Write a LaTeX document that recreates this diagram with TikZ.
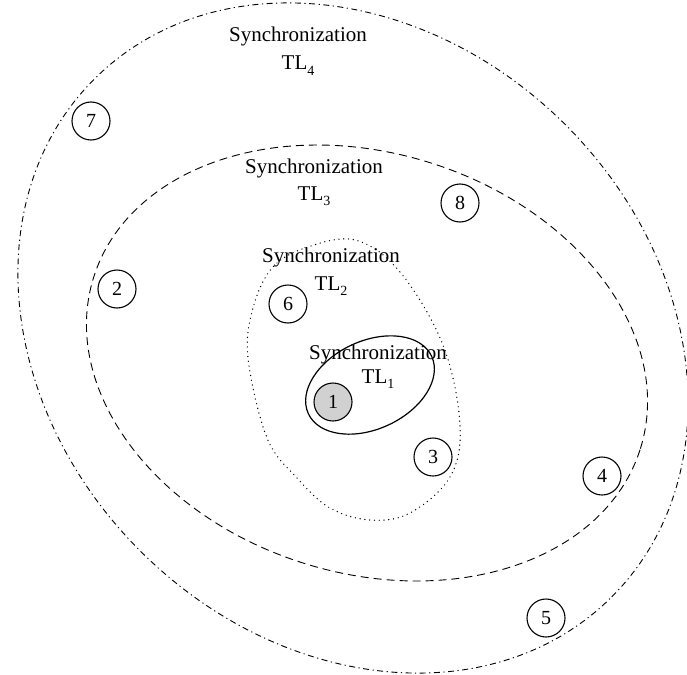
\documentclass[tikz,border=0pt]{standalone}
\usepackage{fontspec}
\setmainfont{Liberation Serif}
\newcommand{\tlsub}[1]{TL\raisebox{-0.28em}{\fontsize{14}{14}\selectfont #1}}
\begin{document}
\begin{tikzpicture}[x=1pt,y=-1pt,
  zone/.style={line width=0.9pt},
  ringfour/.style={zone, dash pattern=on 6pt off 3.5pt on 1.2pt off 3.5pt},
  ringthree/.style={zone, dash pattern=on 8pt off 5pt},
  ringtwo/.style={line width=1.4pt, dash pattern=on 0pt off 4.8pt, line cap=round},
  ringone/.style={line width=1.2pt},
  station/.style={circle, draw, line width=1.1pt, minimum size=38pt, inner sep=0pt,
    font=\fontsize{20}{20}\selectfont},
  caption/.style={font=\fontsize{21}{21}\selectfont, anchor=base, inner sep=0pt}
]
\useasboundingbox (0,0) rectangle (687,674);

% outer zone TL4 (dash-dot)
\draw[ringfour, rotate around={-45:(353,338)}] (353,338) ellipse [x radius=366pt, y radius=301pt];

% zone TL3 (dashed)
\draw[ringthree, rotate around={-17.4:(367,363)}] (367,363) ellipse [x radius=286.5pt, y radius=210pt];

% zone TL2 (dotted)
\draw[ringtwo] plot[smooth cycle, tension=0.6] coordinates {
  (355,240) (400,272) (443,345) (460,425) (450,477) (410,513)
  (370,520) (330,508) (297,478) (267,438) (248,358) (253,308) (272,268)
  (305,248)};

% zone TL1 (solid)
\draw[ringone, rotate around={25:(370,385)}] (370,385) ellipse [x radius=68pt, y radius=44pt];

% zone captions
\node[caption] (s4) at (298,42) {Synchronization};
\node[caption] (t4) at (298,70) {\tlsub{4}};
\node[caption] (s3) at (314,173) {Synchronization};
\node[caption] (t3) at (314,200) {\tlsub{3}};
\node[caption] (s2) at (331,262) {Synchronization};
\node[caption] (t2) at (331,290) {\tlsub{2}};
\node[caption] (s1) at (378,359) {Synchronization};
\node[caption] (t1) at (378,383) {\tlsub{1}};

% stations
\node[station, fill=black!18] (n1) at (333,402) {1};
\node[station] (n2) at (117,289) {2};
\node[station] (n3) at (433,457) {3};
\node[station] (n4) at (602,476) {4};
\node[station] (n5) at (546,618) {5};
\node[station] (n6) at (288,304) {6};
\node[station] (n7) at (91,121) {7};
\node[station] (n8) at (460,203) {8};
\end{tikzpicture}
\end{document}
